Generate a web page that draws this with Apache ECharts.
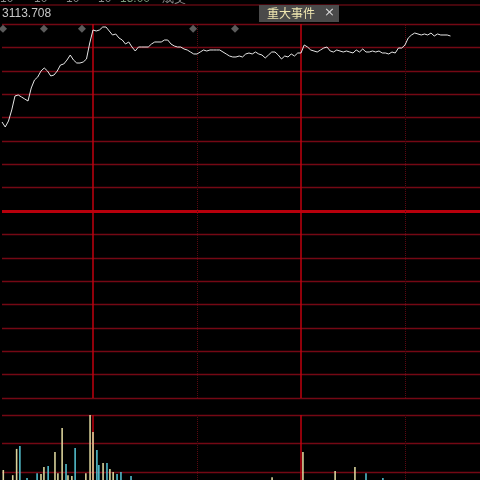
<!DOCTYPE html>
<html><head><meta charset="utf-8">
<script src="https://cdn.jsdelivr.net/npm/echarts@6/dist/echarts.min.js"></script>
<style>html,body{margin:0;padding:0;background:#000}#c{width:480px;height:480px}</style>
</head><body><div id="c"></div>
<script>
// intraday price samples (one per slot)
const prices = [3086.30,3084.96,3086.56,3089.51,3093.25,3093.52,3092.98,3092.45,3091.91,3095.39,
3097.53,3098.33,3099.93,3100.74,3099.93,3098.60,3098.86,3099.93,3101.54,3101.80,
3102.87,3104.21,3102.87,3102.07,3102.07,3102.34,3103.14,3107.42,3110.90,3110.63,
3110.90,3111.70,3111.70,3110.63,3109.56,3109.83,3108.76,3108.22,3107.15,3107.69,
3106.35,3105.28,3106.35,3106.35,3106.35,3106.35,3107.15,3107.69,3107.69,3107.69,
3108.22,3108.22,3107.15,3106.62,3106.35,3106.35,3105.82,3105.55,3105.01,3104.48,
3104.48,3105.01,3105.55,3105.28,3105.55,3105.55,3105.55,3105.55,3105.01,3104.48,
3103.94,3103.68,3103.68,3103.94,3103.68,3104.48,3104.75,3104.48,3105.01,3104.48,
3104.21,3103.41,3104.21,3105.01,3105.01,3104.21,3103.14,3103.94,3103.68,3104.48,
3103.94,3104.75,3104.75,3106.89,3106.35,3105.55,3105.28,3105.01,3105.55,3106.08,
3106.35,3105.28,3105.01,3105.55,3105.28,3105.01,3105.28,3105.01,3104.75,3105.55,
3105.01,3105.82,3105.01,3105.01,3105.28,3105.01,3105.28,3104.75,3104.75,3104.48,
3105.01,3104.75,3106.08,3106.08,3106.89,3108.76,3109.56,3110.09,3109.83,3109.56,
3109.83,3109.56,3110.09,3109.29,3109.83,3109.56,3109.56,3109.56,3109.29];
// volume bars: slot position, volume, up(1)/down(0)
const volSlots = [0.4,3.3,4.5,5.5,7.7,10.8,12.0,12.9,14.2,16.3,17.2,18.5,19.7,20.3,21.5,22.5,25.8,27.1,28.0,29.2,29.8,31.1,32.3,33.2,34.2,35.4,36.6,39.7,83.1,92.6,102.5,108.6,112.0,117.2];
const volValues = [107,89,181,191,79,96,93,118,121,170,96,254,128,89,86,184,96,300,240,177,125,132,132,111,100,93,100,86,82,170,104,118,96,79];
const volUp = [1,1,1,0,0,0,1,1,0,1,1,1,0,1,1,0,1,1,1,0,0,1,0,1,1,0,0,0,1,1,1,1,0,0];
// event markers
const eventSlots = [0.3,12.9,24.6,58.8,71.7];
const eventLevel = 3111.2;
// axis settings
const slotMax = 147.08;
const priceMin = 3012.5, priceMax = 3112.5, priceStep = 6.25;
const prevClose = 3062.5;
const daySlots = [28, 92];
const middaySlots = [60, 124];
const volMin = 72, volMax = 300;
const volLevels = [100, 200, 300];
const topLabel = '3113.708';
const eventTitle = '重大事件';
// cut-off header tab labels (only their lower edge is visible)
const headerTabs = ['10', '10', '10', '10', '15:00', '成交'];

const gridRed = '#740814';
const chart = echarts.init(document.getElementById('c'), null, {renderer: 'canvas'});

const vLines = daySlots.map(s => ({xAxis: s, lineStyle: {color: '#c0000e', width: 1.5, type: 'solid'}}))
  .concat(middaySlots.map(s => ({xAxis: s, lineStyle: {color: '#5a0810', width: 1, type: 'dotted'}})));

const tabX = [0, 34, 66, 98, 120, 162];
const headerGraphics = headerTabs.map((t, i) => ({type: 'text', left: tabX[i], top: -7,
  style: {text: t, fill: i === 4 ? '#7a9a7a' : '#8a8a8a', font: '12px "Liberation Sans", Arial, sans-serif'}}));

chart.setOption({
  backgroundColor: '#000',
  animation: false,
  grid: [
    {left: 2, top: 24, width: 478, height: 374},
    {left: 2, top: 415, width: 478, height: 65}
  ],
  xAxis: [
    {type: 'value', gridIndex: 0, min: 0, max: slotMax, show: false},
    {type: 'value', gridIndex: 1, min: 0, max: slotMax, show: false}
  ],
  yAxis: [
    {type: 'value', gridIndex: 0, min: priceMin, max: priceMax, interval: priceStep,
     axisLine: {show: false}, axisTick: {show: false}, axisLabel: {show: false},
     splitLine: {show: true, lineStyle: {color: gridRed, width: 1.3}}},
    {type: 'value', gridIndex: 1, min: volMin, max: volMax,
     axisLine: {show: false}, axisTick: {show: false}, axisLabel: {show: false},
     splitLine: {show: false}}
  ],
  series: [
    {type: 'line', xAxisIndex: 0, yAxisIndex: 0, data: prices.map((p, i) => [i, p]),
     showSymbol: false, symbol: 'none', lineStyle: {color: '#e6e6e6', width: 1}, z: 5,
     markLine: {silent: true, symbol: 'none', label: {show: false},
       data: [{yAxis: prevClose, lineStyle: {color: '#b8000c', width: 3, type: 'solid'}}].concat(vLines)}},
    {type: 'scatter', xAxisIndex: 0, yAxisIndex: 0, data: eventSlots.map(s => [s, eventLevel]),
     symbol: 'diamond', symbolSize: [8, 8], itemStyle: {color: '#727272'}, z: 6},
    {type: 'bar', xAxisIndex: 1, yAxisIndex: 1, barWidth: 1.6,
     data: volSlots.map((s, i) => ({value: [s, volValues[i]],
       itemStyle: {color: volUp[i] ? '#d9d29a' : '#52bccb'}})),
     z: 5,
     markLine: {silent: true, symbol: 'none', label: {show: false},
       data: volLevels.map(v => ({yAxis: v, lineStyle: {color: gridRed, width: 1.3, type: 'solid'}})).concat(vLines)}}
  ],
  graphic: headerGraphics.concat([
    {type: 'rect', shape: {x: 0, y: 4.5, width: 480, height: 1}, style: {fill: '#8a0c18'}},
    {type: 'text', left: 2, top: 8, style: {text: topLabel, fill: '#c8c8c8', font: '12px "Liberation Sans", Arial, sans-serif'}},
    {type: 'rect', shape: {x: 259, y: 5, width: 80, height: 17}, style: {fill: '#4a4a4a'}},
    {type: 'text', left: 267, top: 7, style: {text: eventTitle, fill: '#efe6b0', font: '12px "Noto Sans CJK SC", sans-serif'}},
    {type: 'text', left: 324, top: 6, style: {text: '×', fill: '#d8d8d8', font: '13px "DejaVu Sans", sans-serif'}}
  ])
});
</script></body></html>
